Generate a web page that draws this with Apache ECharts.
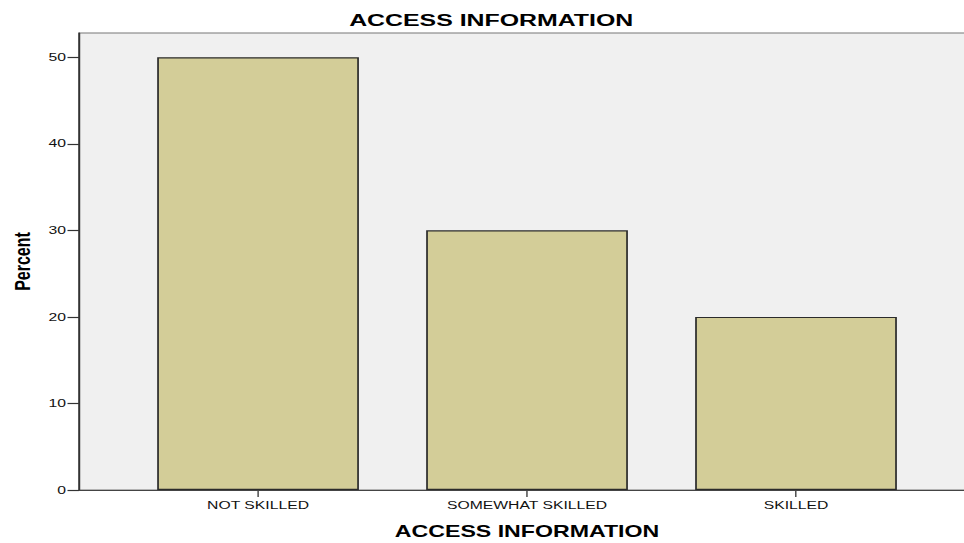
<!DOCTYPE html>
<html>
<head>
<meta charset="utf-8">
<script src="https://cdn.jsdelivr.net/npm/echarts@6/dist/echarts.min.js"></script>
<style>
html,body{margin:0;padding:0;background:#fff;overflow:hidden;width:964px;height:543px}
#c{width:690px;height:543px;transform:scaleX(1.43);transform-origin:0 0}
</style>
</head>
<body>
<div id="c"></div>
<script>
const categories = ['NOT SKILLED', 'SOMEWHAT SKILLED', 'SKILLED'];
const percentValues = [50, 30, 20];
const titleText = 'ACCESS INFORMATION';
const xAxisTitle = 'ACCESS INFORMATION';
const yAxisTitle = 'Percent';

const chart = echarts.init(document.getElementById('c'), null, {renderer: 'svg'});
const yMax = 52.8;
const font = 'Arial, "Liberation Sans", sans-serif';
chart.setOption({
  animation: false,
  backgroundColor: '#ffffff',
  title: {
    text: titleText, left: 338.5, top: 7, textAlign: 'center',
    textStyle: {fontFamily: font, fontSize: 17.4, fontWeight: 'bold', color: '#000'}
  },
  grid: [
    {left: 55.2, right: 4, top: 33, bottom: 53, show: true, backgroundColor: '#f0f0f0', borderColor: '#777', borderWidth: 1.2, containLabel: false, outerBoundsMode: 'none'},
    {left: 86.4, right: 39.3, top: 33, bottom: 53, containLabel: false, outerBoundsMode: 'none'}
  ],
  xAxis: [
    {gridIndex: 0, type: 'value', min: 0, max: 1, axisLine: {show: true, lineStyle: {color: '#444', width: 1.2}}, axisTick: {show: false}, axisLabel: {show: false}, splitLine: {show: false}},
    {gridIndex: 1, type: 'category', data: categories, axisLine: {show: false},
     axisTick: {show: true, alignWithLabel: true, length: 7, inside: false, lineStyle: {color: '#444', width: 1}},
     axisLabel: {fontFamily: font, fontSize: 11, color: '#111', margin: 10},
     name: xAxisTitle, nameLocation: 'middle', nameGap: 33,
     nameTextStyle: {fontFamily: font, fontSize: 16.2, fontWeight: 'bold', color: '#000'}}
  ],
  yAxis: [
    {gridIndex: 0, type: 'value', min: 0, max: yMax, interval: 10,
     axisLine: {show: true, lineStyle: {color: '#333', width: 1.2}},
     axisTick: {show: true, length: 8, lineStyle: {color: '#333', width: 1.2}},
     axisLabel: {fontFamily: font, fontSize: 11, color: '#111', margin: 9, showMaxLabel: false},
     splitLine: {show: false},
     name: yAxisTitle, nameLocation: 'middle', nameGap: 32, nameRotate: 90,
     nameTextStyle: {fontFamily: font, fontSize: 16, fontWeight: 'bold', color: '#000'}},
    {gridIndex: 1, type: 'value', min: 0, max: yMax, show: false}
  ],
  series: [{
    type: 'bar', xAxisIndex: 1, yAxisIndex: 1, data: percentValues, barWidth: '75%',
    itemStyle: {color: '#d3cd98', borderColor: '#2b2b2b', borderWidth: 1.2}
  }]
});
</script>
</body>
</html>
